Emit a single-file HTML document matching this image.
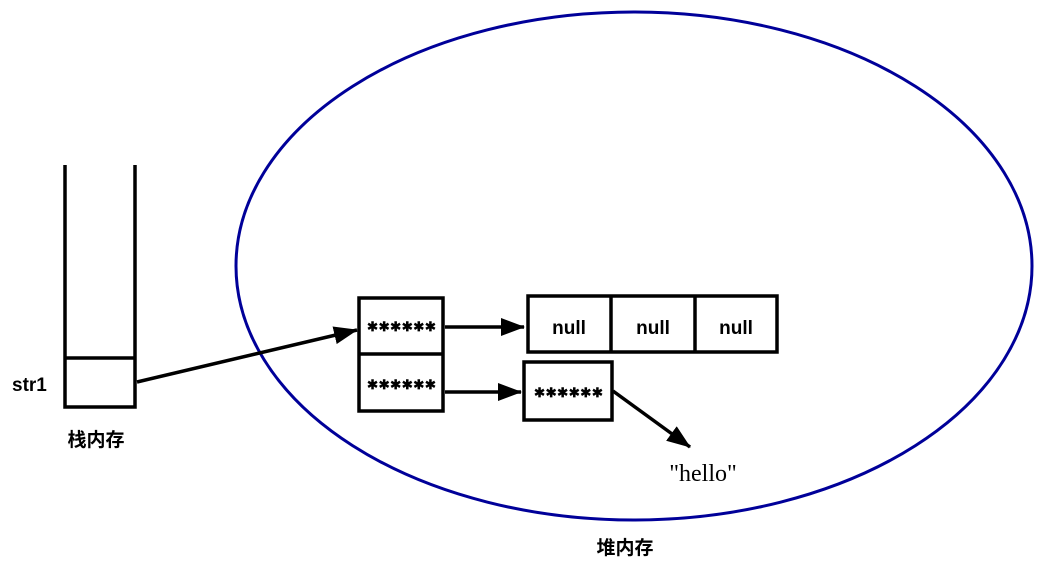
<!DOCTYPE html>
<html><head><meta charset="utf-8"><style>body{margin:0;background:#fff}</style></head><body>
<svg width="1050" height="567" viewBox="0 0 1050 567" xmlns="http://www.w3.org/2000/svg">
<defs>
<marker id="b" markerWidth="24" markerHeight="18" refX="23" refY="9" orient="auto" markerUnits="userSpaceOnUse"><path d="M0,0 L24,9 L0,18 z" fill="#000"/></marker></defs>
<ellipse cx="634" cy="266" rx="398" ry="254" fill="none" stroke="#000099" stroke-width="3"/>
<g stroke="#000" stroke-width="3.5" fill="none">
<path d="M65,165 V407 H135 V165"/><line x1="65" y1="358" x2="135" y2="358"/>
<rect x="359" y="298" width="84" height="113" fill="#fff"/><line x1="359" y1="354" x2="443" y2="354"/>
<rect x="528" y="296" width="249" height="56" fill="#fff"/><line x1="611" y1="296" x2="611" y2="352"/><line x1="695" y1="296" x2="695" y2="352"/>
<rect x="524" y="362" width="88" height="58" fill="#fff"/>
<line x1="137" y1="382" x2="357" y2="330" marker-end="url(#b)"/>
<line x1="445" y1="327" x2="524" y2="327" marker-end="url(#b)"/>
<line x1="445" y1="392" x2="521" y2="392" marker-end="url(#b)"/>
<line x1="613" y1="391" x2="690" y2="447" marker-end="url(#b)"/>
</g>
<g font-family="Liberation Sans, sans-serif" font-weight="bold" font-size="19" fill="#000">
<text x="12" y="391">str1</text>
<text x="569" y="334" text-anchor="middle">null</text>
<text x="653" y="334" text-anchor="middle">null</text>
<text x="736" y="334" text-anchor="middle">null</text>
</g>
<g font-family="DejaVu Sans, sans-serif" font-weight="bold" font-size="15" fill="#000" stroke="#000" stroke-width="0.8" letter-spacing="-1">
<text x="401" y="331" text-anchor="middle">∗∗∗∗∗∗</text>
<text x="401" y="389" text-anchor="middle">∗∗∗∗∗∗</text>
<text x="568" y="397" text-anchor="middle">∗∗∗∗∗∗</text>
</g>
<g font-family="Liberation Sans, Noto Sans CJK SC, sans-serif" font-weight="bold" font-size="19">
<text x="96" y="446" text-anchor="middle">栈内存</text>
<text x="625" y="554" text-anchor="middle">堆内存</text>
</g>
<text x="703" y="481" text-anchor="middle" font-family="Liberation Serif, serif" font-size="24">"hello"</text>
</svg>
</body></html>
